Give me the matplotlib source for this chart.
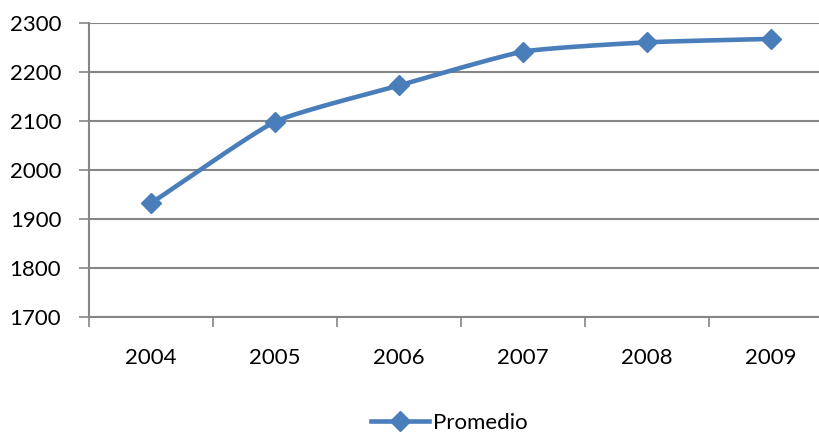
import numpy as np
import matplotlib
matplotlib.use("Agg")
import matplotlib.pyplot as plt
from matplotlib.lines import Line2D

years = ["2004", "2005", "2006", "2007", "2008", "2009"]
promedio = [1932, 2098, 2172, 2241, 2260, 2267]
y_ticks = [1700, 1800, 1900, 2000, 2100, 2200, 2300]

plt.rcParams['font.family'] = ['Lato', 'DejaVu Sans']
color = "#4A7EBB"
grid_c = "#868686"

fig = plt.figure(figsize=(8.2, 4.43), dpi=100)
ax = fig.add_axes([89/820, (443-317)/443, 744/820, (317-22.7)/443])

x = np.arange(len(years))
y = np.array(promedio, dtype=float)

# Gently smoothed curve through the data points (Hermite with reduced tangents)
def smooth(xp, yp, s=0.5, n=30):
    P = np.column_stack([xp, yp])
    m = np.zeros_like(P)
    m[1:-1] = (P[2:] - P[:-2]) / 2
    m[0] = P[1] - P[0]
    m[-1] = P[-1] - P[-2]
    m *= s
    out = []
    t = np.linspace(0, 1, n)[:, None]
    h00 = 2*t**3 - 3*t**2 + 1
    h10 = t**3 - 2*t**2 + t
    h01 = -2*t**3 + 3*t**2
    h11 = t**3 - t**2
    for i in range(len(P) - 1):
        seg = h00*P[i] + h10*m[i] + h01*P[i+1] + h11*m[i+1]
        out.append(seg if i == 0 else seg[1:])
    out = np.vstack(out)
    return out[:, 0], out[:, 1]

cx, cy = smooth(x.astype(float), y)
ax.plot(cx, cy, color=color, lw=3.3, solid_capstyle='round', zorder=3)
ax.plot(x, y, linestyle='none', marker='D', markersize=10.5, color=color, zorder=4)

ax.set_xlim(-0.5, len(years) - 0.5)
ax.set_ylim(1700, 2300)
ax.set_yticks(y_ticks)
ax.set_yticklabels([str(v) for v in y_ticks])
ax.set_xticks(np.arange(-0.5, len(years), 1.0))
ax.set_xticklabels([])
ax.set_xticks(x, minor=True)
ax.set_xticklabels(years, minor=True)
ax.tick_params(axis='x', which='minor', length=0, pad=22, labelsize=16)
ax.tick_params(axis='x', which='major', length=7, width=1.2, color=grid_c, direction='out')
ax.tick_params(axis='y', length=7, width=1.2, color=grid_c, pad=13, labelsize=16)

ax.yaxis.grid(True, color=grid_c, lw=1.5)
ax.set_axisbelow(True)
for s in ['top', 'right']:
    ax.spines[s].set_visible(False)
ax.spines['left'].set_color(grid_c)
ax.spines['left'].set_linewidth(1.5)
ax.spines['bottom'].set_color(grid_c)
ax.spines['bottom'].set_linewidth(1.5)

handle = Line2D([], [], color=color, lw=3.3, marker='D', markersize=10.5)
fig.legend([handle], ["Promedio"], loc='lower center', bbox_to_anchor=(0.548, -0.012),
           frameon=False, fontsize=16, handlelength=2.6, handletextpad=0.2,
           borderpad=0.2)

fig.savefig("out.png", dpi=100)
